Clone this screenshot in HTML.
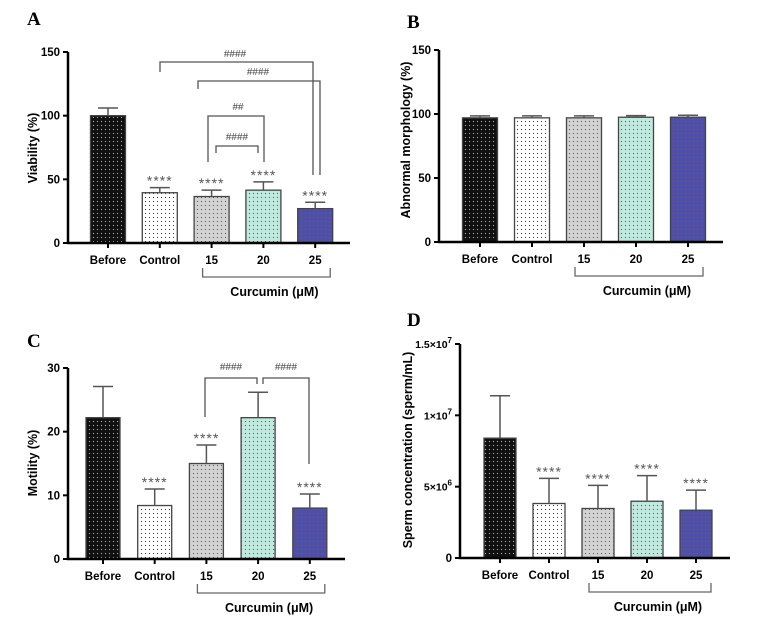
<!DOCTYPE html>
<html><head><meta charset="utf-8"><style>
body{margin:0;background:#fff}
svg{display:block;font-family:"Liberation Sans",Arial,sans-serif}
</style></head><body>
<svg id="fig" width="761" height="641" viewBox="0 0 761 641" xmlns="http://www.w3.org/2000/svg">
<defs>
<pattern id="pBefore" width="4" height="4" patternUnits="userSpaceOnUse"><rect width="4" height="4" fill="#111"/><rect x="1" y="1" width="1" height="1" fill="#bbb"/></pattern>
<pattern id="pControl" width="4" height="4" patternUnits="userSpaceOnUse"><rect width="4" height="4" fill="#fff"/><rect x="1" y="1" width="1" height="1" fill="#333"/></pattern>
<pattern id="p15" width="4" height="4" patternUnits="userSpaceOnUse"><rect width="4" height="4" fill="#d2d2d2"/><rect x="1" y="1" width="1" height="1" fill="#555"/></pattern>
<pattern id="p20" width="4" height="4" patternUnits="userSpaceOnUse"><rect width="4" height="4" fill="#bde9de"/><rect x="1" y="1" width="1" height="1" fill="#555"/></pattern>
<pattern id="p25" width="4" height="4" patternUnits="userSpaceOnUse"><rect width="4" height="4" fill="#4b50a8"/><rect x="1" y="1" width="1" height="1" fill="#9a4a6a"/></pattern>
</defs>
</svg>
<script>
const categories = ["Before","Control","15","20","25"];
const viability = [100,39.5,36.5,41.5,27];
const viabilityErr = [6,4,5,6.5,5];
const viabilityStars = ["","****","****","****","****"];
const morphology = [97,97,97,97.5,97.5];
const morphologyErr = [1.5,1.5,1.5,1.2,1.5];
const motility = [22.2,8.4,15,22.2,8];
const motilityErr = [4.9,2.6,2.9,4,2.2];
const motilityStars = ["","****","****","","****"];
const concentration = [8.4e6,3.82e6,3.47e6,3.98e6,3.35e6];
const concentrationErr = [2.97e6,1.76e6,1.62e6,1.79e6,1.41e6];
const concentrationStars = ["","****","****","****","****"];
const ticksA = [0,50,100,150];
const ticksC = [0,10,20,30];
const ticksD = [0,5e6,1e7,1.5e7];
const fills = ["pBefore","pControl","p15","p20","p25"];

const NS="http://www.w3.org/2000/svg";
const svg=document.getElementById('fig');
function mk(tag,attrs,parent){const e=document.createElementNS(NS,tag);for(const k in attrs)e.setAttribute(k,attrs[k]);(parent||svg).appendChild(e);return e;}

function panel(o){
  const g=mk('g',{});
  
  
  const y=v=>o.y0-(v/o.max)*(o.y0-o.yTop);
  const xc=i=>o.first+i*o.step;
  const L=mk('text',{x:o.lx,y:o.ly,'font-family':'"Liberation Serif",serif','font-weight':'bold','font-size':19},g);L.textContent=o.letter;
  
  
  o.values.forEach((v,i)=>{
    const top=y(v);
    const r=mk('rect',{x:xc(i)-o.bw/2,y:top,width:o.bw,height:o.y0-top,fill:'url(#'+fills[i]+')',stroke:'#444','stroke-width':1.3},g);
    
    
    const et=y(v+o.err[i]);
    const eb=mk('path',{d:`M${xc(i)},${top} V${et} M${xc(i)-10},${et} H${xc(i)+10}`,stroke:'#555','stroke-width':1.5,fill:'none'},g);
    
    
    if(o.stars && o.stars[i]){
      const s=mk('text',{x:xc(i),y:et-2,'text-anchor':'middle','font-size':14,fill:'#555','letter-spacing':'1'},g);s.textContent=o.stars[i];
      
      
    }
    const t=mk('text',{x:xc(i),y:o.y0+21,'text-anchor':'middle','font-size':11.5,'font-weight':'bold'},g);t.textContent=categories[i];
    
    
    mk('line',{x1:xc(i),x2:xc(i),y1:o.y0,y2:o.y0+5,stroke:'#000','stroke-width':2},g);
  });
  const ax=mk('path',{d:`M${o.x0},${o.yTop} V${o.y0} H${o.x1}`,stroke:'#000','stroke-width':2.5,fill:'none'},g);
  
  
  o.ticks.forEach((tv,k)=>{
    mk('line',{x1:o.x0-5,x2:o.x0,y1:y(tv),y2:y(tv),stroke:'#000','stroke-width':2},g);
    const t=mk('text',{x:o.x0-8,y:y(tv)+4,'text-anchor':'end','font-size':11.5,'font-weight':'bold'},g);
    
    
    if(o.tickFmt){o.tickFmt(t,tv);}else t.textContent=tv;
  });
  const yt=mk('text',{transform:`translate(${o.ytx},${o.yty}) rotate(-90)`,'text-anchor':'middle','font-size':12.5,'font-weight':'bold'},g);yt.textContent=o.ytitle;
  
  
  const bx1=xc(2)-9,bx2=xc(4)+15,by=o.y0+34;
  const br=mk('path',{d:`M${bx1},${by-9} V${by} H${bx2} V${by-9}`,stroke:'#666','stroke-width':1.3,fill:'none'},g);
  
  
  const ct=mk('text',{x:(bx1+bx2)/2+8,y:by+19,'text-anchor':'middle','font-size':12.5,'font-weight':'bold'},g);ct.textContent='Curcumin (μM)';
  
  
  return {g,y,xc};
}
function sig(g,d,lx,ly,label){
  const p=mk('path',{d:d,stroke:'#555','stroke-width':1.3,fill:'none'},g);
  
  
  const t=mk('text',{x:lx,y:ly,'text-anchor':'middle','font-size':10,fill:'#444'},g);t.textContent=label;
  
  
}
const A=panel({name:'panel-a-viability',letter:'A',lx:27,ly:25,x0:68,x1:350,y0:243,yTop:52,max:150,first:108,step:51.8,bw:35,values:viability,err:viabilityErr,stars:viabilityStars,ticks:ticksA,ytitle:'Viability (%)',ytx:37,yty:148});
sig(A.g,'M160,72 V62 H313 V175',235,57,'####');
sig(A.g,'M198,89 V81 H320 V175',258,75,'####');
sig(A.g,'M208,162 V116 H264 V162',238,110,'##');
sig(A.g,'M216,153 V146 H258 V153',237,140,'####');
panel({name:'panel-b-morphology',letter:'B',lx:407,ly:28,x0:439,x1:723,y0:242,yTop:50,max:150,first:480,step:52,bw:35,values:morphology,err:morphologyErr,stars:null,ticks:ticksA,ytitle:'Abnormal morphology (%)',ytx:410,yty:140});
const C=panel({name:'panel-c-motility',letter:'C',lx:27,ly:347,x0:68,x1:345,y0:559,yTop:368,max:30,first:103,step:51.7,bw:34,values:motility,err:motilityErr,stars:motilityStars,ticks:ticksC,ytitle:'Motility (%)',ytx:37,yty:463});
sig(C.g,'M205,417 V378 H257 V384',231,370,'####');
sig(C.g,'M263,384 V378 H309 V464',286,370,'####');
panel({name:'panel-d-concentration',letter:'D',lx:407,ly:326,x0:460,x1:730,y0:558,yTop:344,max:1.5e7,first:500,step:49,bw:32,values:concentration,err:concentrationErr,stars:concentrationStars,ticks:ticksD,ytitle:'Sperm concentration (sperm/mL)',ytx:412,yty:450,
  tickFmt:(t,v)=>{ if(v===0){t.textContent='0';return;}
    const e=Math.floor(Math.log10(v)); const m=v/Math.pow(10,e);
    t.setAttribute('font-size','10.5');
    const a=document.createElementNS(NS,'tspan');a.textContent=m+'×10';t.appendChild(a);
    const b=document.createElementNS(NS,'tspan');b.setAttribute('dy','-5');b.setAttribute('font-size','8');b.textContent=e;t.appendChild(b);
  }});
</script>
</body></html>
